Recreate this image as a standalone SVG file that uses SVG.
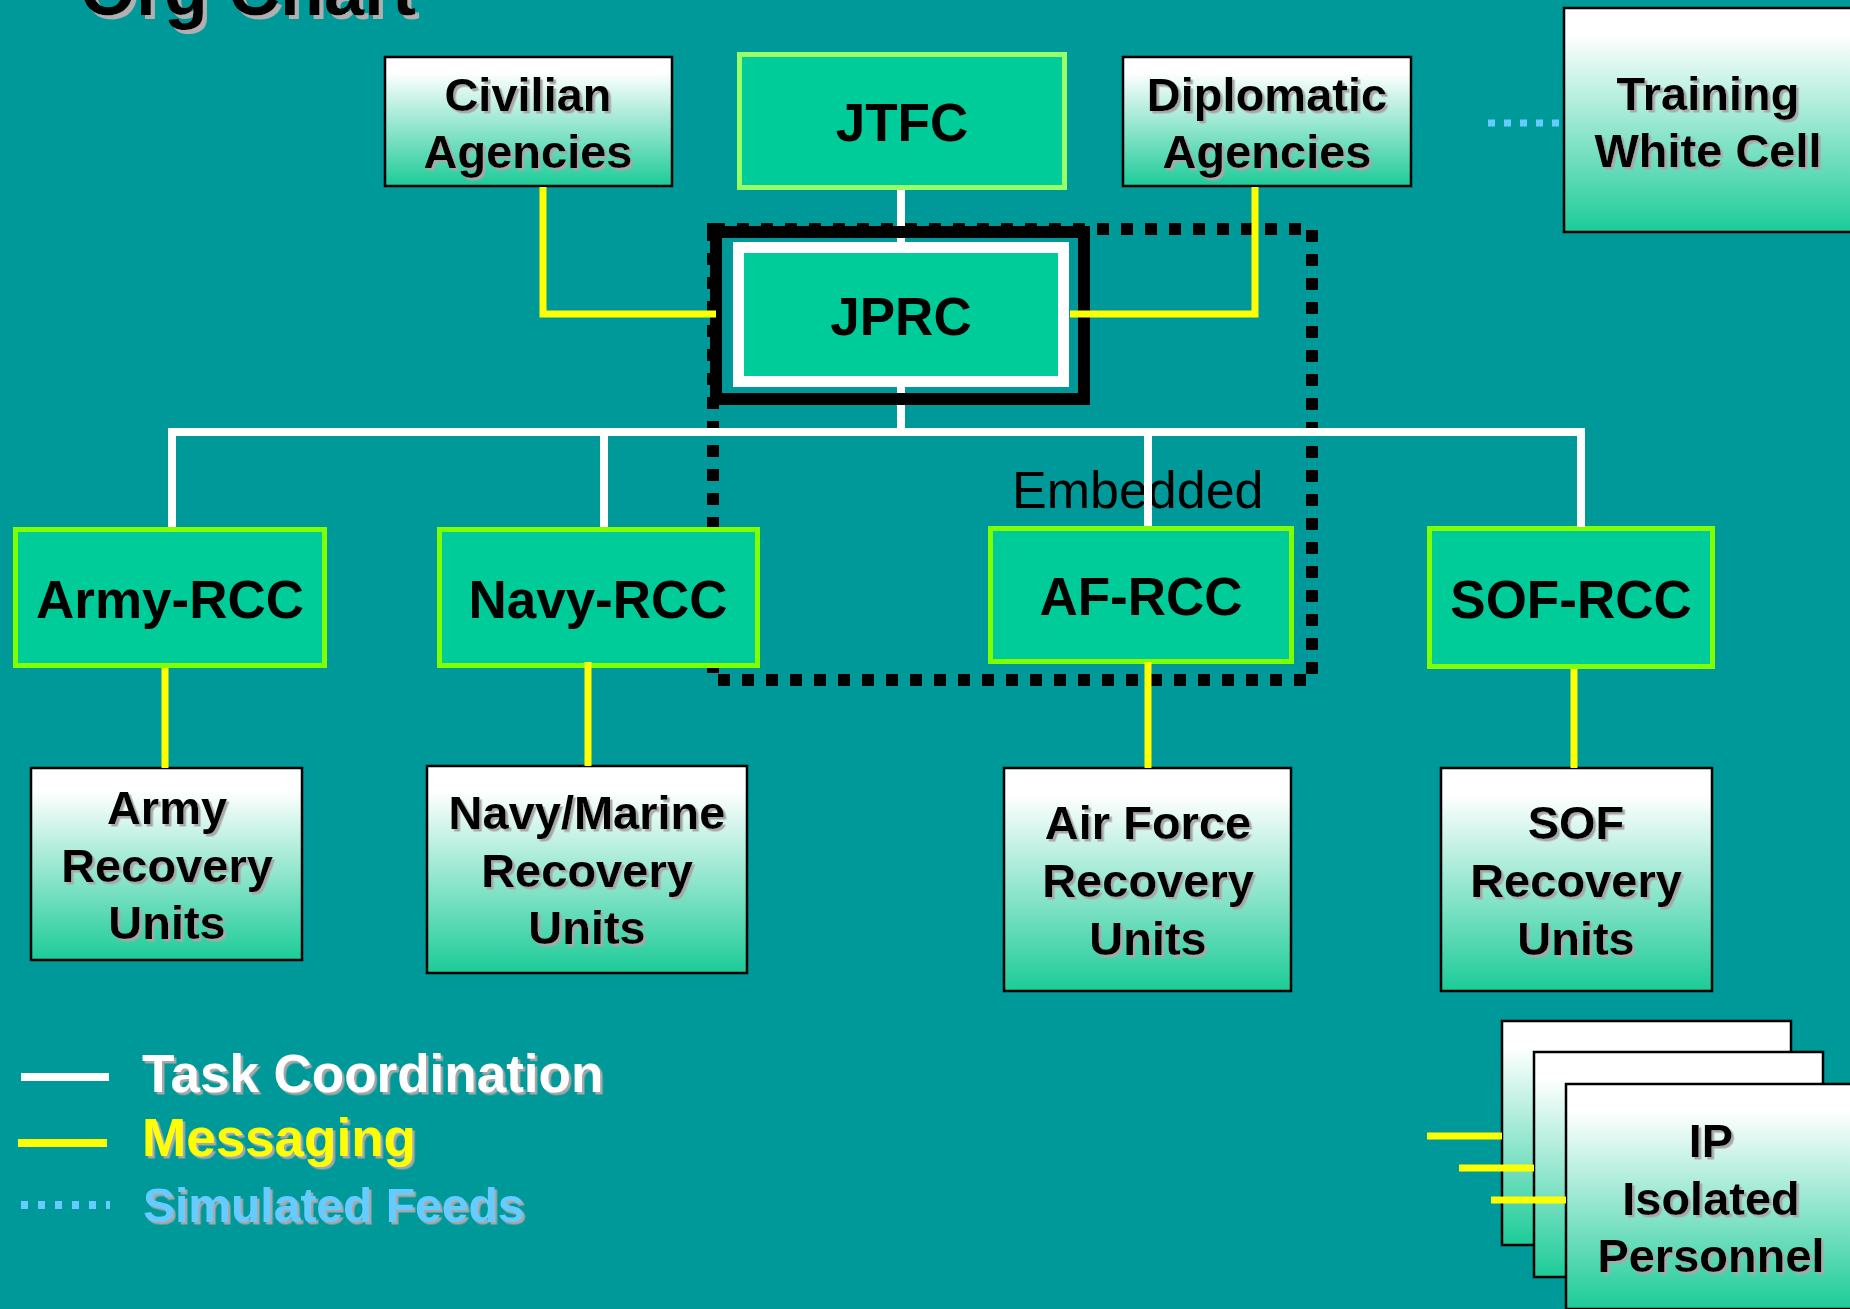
<svg xmlns="http://www.w3.org/2000/svg" width="1850" height="1309" viewBox="0 0 1850 1309">
<defs>
<linearGradient id="gw" x1="0" y1="0" x2="0" y2="1">
<stop offset="0" stop-color="#FFFFFF"/>
<stop offset="0.12" stop-color="#FFFFFF"/>
<stop offset="1" stop-color="#1CCB98"/>
</linearGradient>
<filter id="sh" x="-10%" y="-10%" width="130%" height="140%">
<feDropShadow dx="2.5" dy="2.5" stdDeviation="0" flood-color="#A8A8A8" flood-opacity="1"/>
</filter>
<filter id="sh4" x="-10%" y="-10%" width="130%" height="140%">
<feDropShadow dx="4" dy="4" stdDeviation="0" flood-color="#B0B0B0" flood-opacity="1"/>
</filter>
</defs>
<style>
.t{font-family:"Liberation Sans",Arial,Helvetica,sans-serif;font-weight:bold;text-anchor:middle;fill:#000}
.s47{font-size:47px}
.s53{font-size:53px}
.bw{fill:url(#gw);stroke:#000;stroke-width:2.5}
.bg{fill:#00CC99;stroke:#80FF00;stroke-width:5}
.w{stroke:#FFFFFF;stroke-width:8;fill:none}
.y{stroke:#FFFF00;stroke-width:7;fill:none}
.bl{stroke:#66CCFF;stroke-width:7;fill:none;stroke-dasharray:7 9}
.lg{font-family:"Liberation Sans",Arial,Helvetica,sans-serif;font-weight:bold;font-size:53px}
</style>
<rect x="0" y="0" width="1850" height="1309" fill="#009999"/>

<text x="80" y="15" class="lg" style="font-size:72px" fill="#000" filter="url(#sh4)">Org Chart</text>

<g id="node-civilian">
<rect class="bw" x="385" y="57" width="287" height="129"/>
<text class="t s47" x="528" y="111" filter="url(#sh)">Civilian</text>
<text class="t s47" x="528" y="168" filter="url(#sh)">Agencies</text>
</g>
<g id="node-jtfc">
<rect x="739.5" y="54.5" width="325" height="133" fill="#00CC99" stroke="#99FF66" stroke-width="5"/>
<text class="t s53" x="902" y="141">JTFC</text>
</g>
<g id="node-diplomatic">
<rect class="bw" x="1123" y="57" width="288" height="129"/>
<text class="t s47" x="1267" y="111" filter="url(#sh)">Diplomatic</text>
<text class="t s47" x="1267" y="168" filter="url(#sh)">Agencies</text>
</g>
<g id="node-training">
<rect class="bw" x="1564" y="8" width="290" height="224"/>
<text class="t s47" x="1708" y="110" filter="url(#sh)">Training</text>
<text class="t s47" x="1708" y="167" filter="url(#sh)">White Cell</text>
</g>
<g id="node-jprc">
<rect x="716" y="232" width="368" height="167" fill="none" stroke="#000" stroke-width="12"/>
<rect x="738.5" y="247.5" width="325" height="134" fill="#00CC99" stroke="#FFFFFF" stroke-width="11"/>
<text class="t s53" x="901" y="335">JPRC</text>
</g>
<g id="group-embedded">
<rect x="713" y="229" width="599" height="451" fill="none" stroke="#000" stroke-width="12" stroke-dasharray="12 12"/>
<text x="1012" y="508" font-family="Liberation Sans, Arial, sans-serif" font-size="52" fill="#000">Embedded</text>
</g>
<g id="node-army-rcc">
<rect class="bg" x="15.5" y="529.5" width="309" height="136"/>
<text class="t s53" x="170" y="618">Army-RCC</text>
</g>
<g id="node-navy-rcc">
<rect class="bg" x="439.5" y="529.5" width="318" height="136"/>
<text class="t s53" x="598" y="618">Navy-RCC</text>
</g>
<g id="node-af-rcc">
<rect class="bg" x="990.5" y="528.5" width="301" height="133"/>
<text class="t s53" x="1141" y="615">AF-RCC</text>
</g>
<g id="node-sof-rcc">
<rect class="bg" x="1429.5" y="528.5" width="283" height="138"/>
<text class="t s53" x="1571" y="618">SOF-RCC</text>
</g>
<g id="node-army-ru">
<rect class="bw" x="31" y="768" width="271" height="192"/>
<text class="t s47" x="167" y="824" filter="url(#sh)">Army</text>
<text class="t s47" x="167" y="882" filter="url(#sh)">Recovery</text>
<text class="t s47" x="167" y="939" filter="url(#sh)">Units</text>
</g>
<g id="node-navy-ru">
<rect class="bw" x="427" y="766" width="320" height="207"/>
<text class="t s47" x="587" y="829" filter="url(#sh)">Navy/Marine</text>
<text class="t s47" x="587" y="887" filter="url(#sh)">Recovery</text>
<text class="t s47" x="587" y="944" filter="url(#sh)">Units</text>
</g>
<g id="node-af-ru">
<rect class="bw" x="1004" y="768" width="287" height="223"/>
<text class="t s47" x="1148" y="839" filter="url(#sh)">Air Force</text>
<text class="t s47" x="1148" y="897" filter="url(#sh)">Recovery</text>
<text class="t s47" x="1148" y="955" filter="url(#sh)">Units</text>
</g>
<g id="node-sof-ru">
<rect class="bw" x="1441" y="768" width="271" height="223"/>
<text class="t s47" x="1576" y="839" filter="url(#sh)">SOF</text>
<text class="t s47" x="1576" y="897" filter="url(#sh)">Recovery</text>
<text class="t s47" x="1576" y="955" filter="url(#sh)">Units</text>
</g>
<g id="node-ip">
<rect class="bw" x="1502" y="1021" width="289" height="224"/>
<rect class="bw" x="1534" y="1052" width="289" height="225"/>
<rect class="bw" x="1566" y="1084" width="289" height="225"/>
<text class="t s47" x="1711" y="1157" filter="url(#sh)">IP</text>
<text class="t s47" x="1711" y="1215" filter="url(#sh)">Isolated</text>
<text class="t s47" x="1711" y="1272" filter="url(#sh)">Personnel</text>
</g>

<g id="connectors">
<path class="w" d="M901 190V226M901 238V242M901 387V393M901 405V432"/>
<path class="w" d="M172 527V432H1581V527"/>
<path class="w" d="M604 432V527M1148 432V526"/>
<path class="y" d="M543 187V314H716"/>
<path class="y" d="M1255 187V314H1070"/>
<path class="y" d="M165 668V768M588 662V766M1148 662V768M1574 669V768"/>
<path class="y" d="M1427 1136H1502M1459 1168H1534M1491 1200H1566"/>
<path class="bl" d="M1488 123H1563"/>
</g>

<g id="legend">
<path d="M21 1077H109" stroke="#FFFFFF" stroke-width="8"/>
<path d="M18 1143H107" stroke="#FFFF00" stroke-width="8"/>
<path d="M21 1205H110" stroke="#66CCFF" stroke-width="8" stroke-dasharray="7 10"/>
<text x="142" y="1092" class="lg" fill="#FFFFFF" filter="url(#sh)">Task Coordination</text>
<text x="142" y="1156" class="lg" fill="#FFFF00" filter="url(#sh)">Messaging</text>
<text x="143" y="1222" class="lg" style="font-size:48px" fill="#66CCFF" filter="url(#sh)">Simulated Feeds</text>
</g>
</svg>
